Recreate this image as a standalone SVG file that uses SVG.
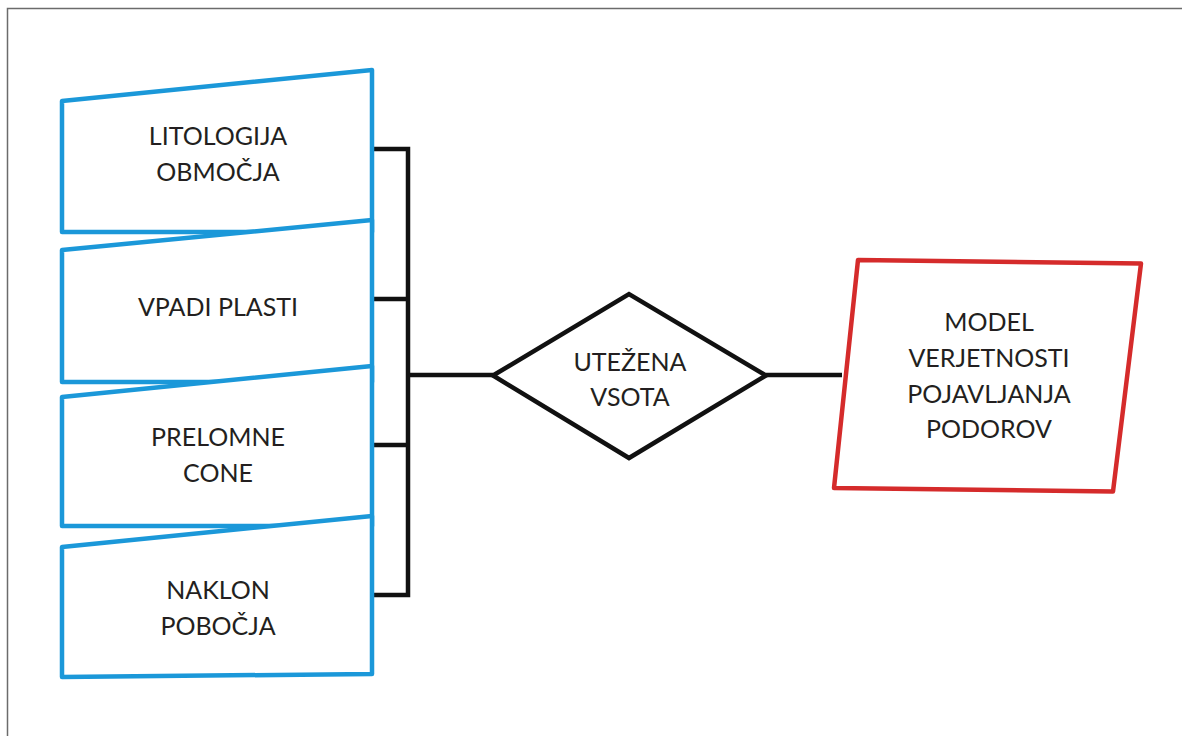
<svg xmlns="http://www.w3.org/2000/svg" width="1182" height="736" viewBox="0 0 1182 736">
<style>
.bg{fill:#ffffff}
.frame{fill:none;stroke:#6b6b6b;stroke-width:1.5}
.blue{fill:#ffffff;stroke:#1b98d9;stroke-width:4.5;stroke-linejoin:round}
.red{fill:#ffffff;stroke:#d52b2b;stroke-width:4.5;stroke-linejoin:round}
.dia{fill:#ffffff;stroke:#111111;stroke-width:4.5;stroke-linejoin:miter}
.conn{fill:none;stroke:#111111;stroke-width:4.5;stroke-linecap:butt;stroke-linejoin:miter}
.t{font-family:Lato,"Open Sans","Liberation Sans",sans-serif;font-size:25px;fill:#231f20;text-anchor:middle}
</style>
<rect class="bg" x="0" y="0" width="1182" height="736"/>
<path class="frame" d="M7.5,736 V8.5 H1182"/>
<g id="connectors">
<path class="conn" d="M372,149 H408 V595 H372 M372,299 H408 M372,445 H408 M408,375 H493 M766,375 H842"/>
</g>
<g id="node-litologija">
<polygon class="blue" points="62,101 372,70 372,232 62,232"/>
<text class="t" x="218" y="145">LITOLOGIJA</text>
<text class="t" x="218" y="181">OBMOČJA</text>
</g>
<g id="node-vpadi">
<polygon class="blue" points="62,250 372,220 372,382 62,382"/>
<text class="t" x="218" y="316">VPADI PLASTI</text>
</g>
<g id="node-prelomne">
<polygon class="blue" points="62,397 372,366 372,526 62,526"/>
<text class="t" x="218" y="446">PRELOMNE</text>
<text class="t" x="218" y="482">CONE</text>
</g>
<g id="node-naklon">
<polygon class="blue" points="62,547 372,516 372,674 62,677"/>
<text class="t" x="218" y="599">NAKLON</text>
<text class="t" x="218" y="635">POBOČJA</text>
</g>
<g id="node-utezena">
<polygon class="dia" points="493,375.5 629,294 766,375.5 629,458"/>
<text class="t" x="630" y="371">UTEŽENA</text>
<text class="t" x="630" y="406">VSOTA</text>
</g>
<g id="node-model">
<polygon class="red" points="858,260 1141,263.5 1113,491.5 834,488"/>
<text class="t" x="989" y="331">MODEL</text>
<text class="t" x="989" y="367">VERJETNOSTI</text>
<text class="t" x="989" y="403">POJAVLJANJA</text>
<text class="t" x="989" y="438">PODOROV</text>
</g>
</svg>
